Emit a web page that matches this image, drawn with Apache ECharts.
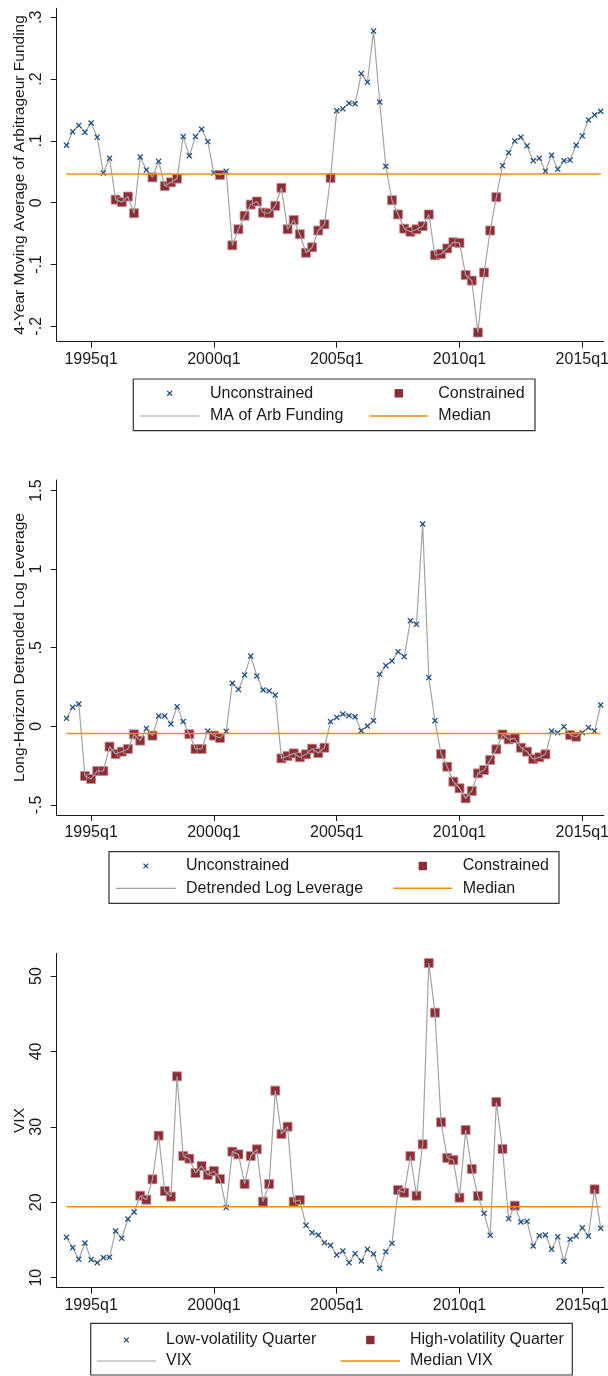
<!DOCTYPE html>
<html>
<head>
<meta charset="utf-8">
<script src="https://cdn.jsdelivr.net/npm/echarts@6/dist/echarts.min.js"></script>
<style>
  html, body { margin: 0; padding: 0; background: #ffffff; }
  #chart { width: 608px; height: 1376px; }
</style>
</head>
<body>
<div id="chart"></div>
<script>
// Quarterly sample 1994q1 - 2015q4
const FIRST_YEAR = 1994, LAST_YEAR = 2015;
const quarters = [];
for (let y = FIRST_YEAR; y <= LAST_YEAR; y++) for (let q = 1; q <= 4; q++) quarters.push(y + 'q' + q);
const xTickLabels = ['1995q1', '2000q1', '2005q1', '2010q1', '2015q1'];

// 4-year moving average of arbitrageur funding
const arbFunding = [
  0.093, 0.115, 0.125, 0.114, 0.129, 0.106, 0.048, 0.072, 0.005, 0.001, 0.010, -0.017,
  0.074, 0.053, 0.041, 0.067, 0.027, 0.033, 0.039, 0.107, 0.076, 0.107, 0.119, 0.099,
  0.048, 0.045, 0.051, -0.069, -0.043, -0.021, -0.003, 0.002, -0.016, -0.017, -0.005, 0.024,
  -0.043, -0.028, -0.051, -0.081, -0.072, -0.045, -0.035, 0.040, 0.149, 0.152, 0.161, 0.160,
  0.209, 0.195, 0.278, 0.163, 0.059, 0.004, -0.019, -0.042, -0.047, -0.043, -0.038, -0.019,
  -0.085, -0.083, -0.074, -0.064, -0.065, -0.117, -0.126, -0.210, -0.113, -0.045, 0.009, 0.060,
  0.081, 0.100, 0.106, 0.092, 0.068, 0.072, 0.051, 0.077, 0.054, 0.068, 0.069, 0.093,
  0.108, 0.134, 0.142, 0.148
];
const arbMedian = 0.0464;
const arbTicks = [-0.2, -0.1, 0, 0.1, 0.2, 0.3];
const arbTickLabels = ['-.2', '-.1', '0', '.1', '.2', '.3'];

// Long-horizon detrended log leverage
const logLeverage = [
  0.051, 0.121, 0.142, -0.316, -0.335, -0.284, -0.284, -0.129, -0.176, -0.161, -0.144, -0.051,
  -0.091, -0.013, -0.059, 0.066, 0.066, 0.015, 0.125, 0.030, -0.050, -0.144, -0.144, -0.030,
  -0.059, -0.074, -0.032, 0.274, 0.235, 0.327, 0.447, 0.320, 0.231, 0.225, 0.199, -0.204,
  -0.189, -0.172, -0.197, -0.178, -0.142, -0.170, -0.136, 0.030, 0.057, 0.078, 0.068, 0.061,
  -0.028, 0.002, 0.036, 0.331, 0.386, 0.416, 0.475, 0.443, 0.672, 0.649, 1.287, 0.310,
  0.036, -0.176, -0.257, -0.352, -0.394, -0.458, -0.411, -0.299, -0.278, -0.214, -0.146, -0.052,
  -0.083, -0.076, -0.136, -0.161, -0.208, -0.197, -0.178, -0.030, -0.040, -0.002, -0.055, -0.066,
  -0.040, -0.008, -0.030, 0.136
];
const levMedian = -0.045;
const levTicks = [-0.5, 0, 0.5, 1, 1.5];
const levTickLabels = ['-.5', '0', '.5', '1', '1.5'];

// VIX, quarterly
const vix = [
  15.35, 13.98, 12.43, 14.60, 12.39, 11.99, 12.65, 12.70, 16.19, 15.22, 17.78, 18.71,
  20.87, 20.34, 23.04, 28.83, 21.49, 20.74, 36.70, 26.13, 25.78, 23.88, 24.81, 23.61,
  24.14, 23.08, 19.30, 26.71, 26.35, 22.42, 26.13, 27.02, 20.08, 22.42, 34.80, 29.05,
  30.02, 20.08, 20.30, 16.94, 15.97, 15.66, 14.64, 14.29, 13.01, 13.54, 11.99, 13.18,
  12.21, 13.76, 13.14, 11.24, 13.45, 14.55, 21.62, 21.27, 26.13, 20.87, 27.68, 51.72,
  45.14, 30.60, 25.87, 25.60, 20.61, 29.58, 24.41, 20.83, 18.53, 15.61, 33.29, 27.06,
  17.82, 19.55, 17.38, 17.47, 14.20, 15.57, 15.66, 13.76, 15.44, 12.17, 15.08, 15.52,
  16.63, 15.52, 21.71, 16.54
];
const vixMedian = 19.4;
const vixTicks = [10, 20, 30, 40, 50];
const vixTickLabels = ['10', '20', '30', '40', '50'];

// ---- styling ----
const FONT = 'Liberation Sans, Arial, sans-serif';
const FS = 16;
const NAVY = '#1f4f82', MAROON = '#8c2d36', GRAY = '#a3a3a3', ORANGE = '#f28c14', INK = '#1a1a1a';
const CROSS = 'path://M0,1.5L1.5,0L5,3.5L8.5,0L10,1.5L6.5,5L10,8.5L8.5,10L5,6.5L1.5,10L0,8.5L3.5,5Z';

const xTickIdx = xTickLabels.map(l => quarters.indexOf(l));

const panels = [
  { values: arbFunding, median: arbMedian, ticks: arbTicks, tickLabels: arbTickLabels,
    yMin: -0.2249, yMax: 0.3146, top: 8.3, height: 333.4, lowIsMarked: true,
    title: '4-Year Moving Average of Arbitrageur Funding',
    names: ['Unconstrained', 'Constrained', 'MA of Arb Funding', 'Median'] },
  { values: logLeverage, median: levMedian, ticks: levTicks, tickLabels: levTickLabels,
    yMin: -0.564, yMax: 1.567, top: 480, height: 335, lowIsMarked: true,
    title: 'Long-Horizon Detrended Log Leverage',
    names: ['Unconstrained', 'Constrained', 'Detrended Log Leverage', 'Median'] },
  { values: vix, median: vixMedian, ticks: vixTicks, tickLabels: vixTickLabels,
    yMin: 8.67, yMax: 53.01, top: 953.3, height: 334.4, lowIsMarked: false,
    title: 'VIX',
    names: ['Low-volatility Quarter', 'High-volatility Quarter', 'VIX', 'Median VIX'] }
];

// legend box layout for each panel
const legendBoxes = [
  { x: 133.3, y: 379, w: 401.7, h: 51.7, rows: [393.3, 416], c1: [140, 199.3, 210], c2: [369.3, 428.3, 438.3] },
  { x: 109, y: 851.7, w: 450, h: 51.6, rows: [866, 888.3], c1: [116, 175.7, 186], c2: [393.3, 452.3, 462.7] },
  { x: 90.7, y: 1323.3, w: 481.6, h: 51.7, rows: [1340, 1361], c1: [96.7, 156, 166], c2: [340.7, 400, 410] }
];

const grid = [], xAxis = [], yAxis = [], series = [], graphic = [];

panels.forEach((p, k) => {
  grid.push({ left: 56.7, width: 547.1, top: p.top, height: p.height,
    containLabel: false, outerBoundsMode: 'none' });
  xAxis.push({
    type: 'value', gridIndex: k, min: -1.6, max: 87.5,
    axisLine: { show: true, onZero: false, lineStyle: { color: INK, width: 1 } },
    axisTick: { show: true, length: 6, lineStyle: { color: INK }, customValues: xTickIdx },
    axisLabel: { show: true, margin: 10, color: INK, fontFamily: FONT, fontSize: FS,
      customValues: xTickIdx, formatter: v => quarters[Math.round(v)] },
    splitLine: { show: false }
  });
  yAxis.push({
    type: 'value', gridIndex: k, min: p.yMin, max: p.yMax,
    name: p.title, nameLocation: 'middle', nameRotate: 90, nameGap: 29, nameMoveOverlap: false,
    nameTextStyle: { color: INK, fontFamily: FONT, fontSize: 15.5 },
    axisLine: { show: true, onZero: false, lineStyle: { color: INK, width: 1 } },
    axisTick: { show: true, length: 6, lineStyle: { color: INK }, customValues: p.ticks },
    axisLabel: { show: true, rotate: 90, margin: 12, color: INK, fontFamily: FONT, fontSize: FS,
      customValues: p.ticks,
      formatter: v => {
        const j = p.ticks.findIndex(t => Math.abs(t - v) < 1e-9);
        return j >= 0 ? p.tickLabels[j] : '';
      } },
    splitLine: { show: false }
  });

  const pts = p.values.map((v, i) => [i, v]);
  const marked = pts.filter(d => p.lowIsMarked ? d[1] < p.median : d[1] > p.median);
  const plain = pts.filter(d => p.lowIsMarked ? d[1] >= p.median : d[1] <= p.median);

  series.push({
    name: p.names[1], type: 'scatter', xAxisIndex: k, yAxisIndex: k, data: marked,
    symbol: 'rect', symbolSize: 9, z: 2,
    itemStyle: { color: MAROON, opacity: 1, borderColor: '#c58c91', borderWidth: 0.8 }
  });
  series.push({
    name: p.names[2], type: 'line', xAxisIndex: k, yAxisIndex: k, data: pts,
    showSymbol: false, z: 3, lineStyle: { color: GRAY, width: 1.2 }
  });
  series.push({
    name: p.names[0], type: 'scatter', xAxisIndex: k, yAxisIndex: k, data: plain,
    symbol: CROSS, symbolSize: 6, z: 4,
    itemStyle: { color: NAVY, opacity: 1 }
  });
  series.push({
    name: p.names[3], type: 'line', xAxisIndex: k, yAxisIndex: k,
    data: [[0, p.median], [p.values.length - 1, p.median]],
    showSymbol: false, z: 5, lineStyle: { color: ORANGE, width: 1.5 }
  });

  // legend block
  const b = legendBoxes[k];
  const txt = (x, y, s) => ({ type: 'text', silent: true,
    style: { x, y, text: s, font: FS + 'px ' + FONT, fill: INK, verticalAlign: 'middle', align: 'left' } });
  const cx1 = (b.c1[0] + b.c1[1]) / 2, cx2 = (b.c2[0] + b.c2[1]) / 2;
  const r1 = b.rows[0], r2 = b.rows[1];
  graphic.push(
    { type: 'rect', silent: true, shape: { x: b.x, y: b.y, width: b.w, height: b.h },
      style: { fill: '#ffffff', stroke: '#333333', lineWidth: 1.2 } },
    { type: 'line', silent: true, shape: { x1: cx1 - 2.4, y1: r1 - 2.4, x2: cx1 + 2.4, y2: r1 + 2.4 },
      style: { stroke: NAVY, lineWidth: 1.3 } },
    { type: 'line', silent: true, shape: { x1: cx1 - 2.4, y1: r1 + 2.4, x2: cx1 + 2.4, y2: r1 - 2.4 },
      style: { stroke: NAVY, lineWidth: 1.3 } },
    txt(b.c1[2], r1, p.names[0]),
    { type: 'rect', silent: true, shape: { x: cx2 - 4.2, y: r1 - 4.2, width: 8.4, height: 8.4 },
      style: { fill: MAROON } },
    txt(b.c2[2], r1, p.names[1]),
    { type: 'line', silent: true, shape: { x1: b.c1[0], y1: r2, x2: b.c1[1], y2: r2 },
      style: { stroke: GRAY, lineWidth: 1.2 } },
    txt(b.c1[2], r2, p.names[2]),
    { type: 'line', silent: true, shape: { x1: b.c2[0], y1: r2, x2: b.c2[1], y2: r2 },
      style: { stroke: ORANGE, lineWidth: 1.5 } },
    txt(b.c2[2], r2, p.names[3])
  );
});

const chart = echarts.init(document.getElementById('chart'), null, { renderer: 'canvas' });
chart.setOption({
  animation: false,
  backgroundColor: '#ffffff',
  grid, xAxis, yAxis, series, graphic
});
</script>
</body>
</html>
